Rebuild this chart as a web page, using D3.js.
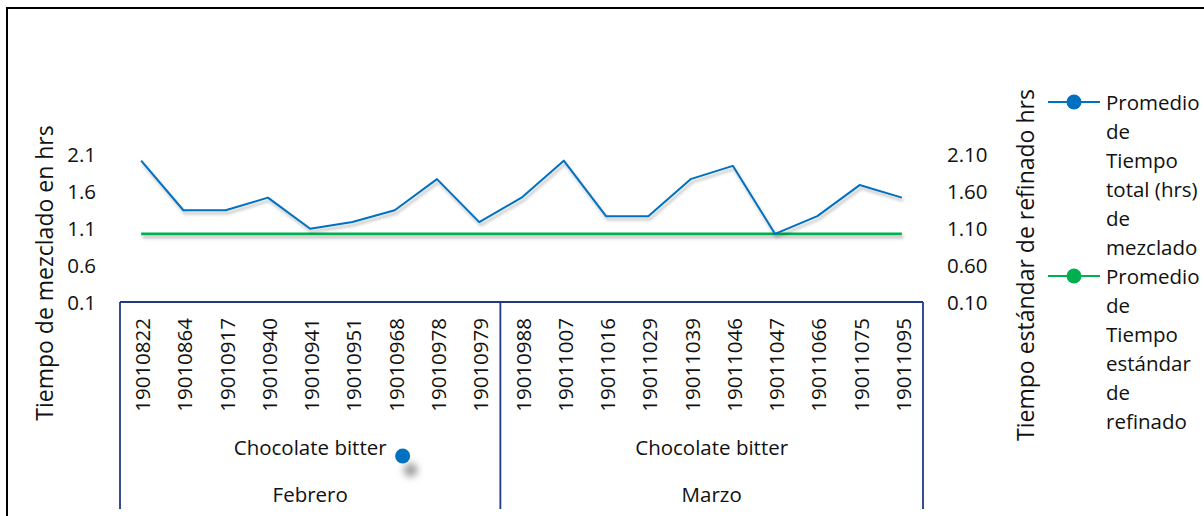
<!DOCTYPE html>
<html>
<head>
<meta charset="utf-8">
<script src="https://cdn.jsdelivr.net/npm/d3@7"></script>
<style>
  body { margin: 0; background: #fff; }
  svg { display: block; }
</style>
</head>
<body>
<script>
// data
var lotes = ["19010822", "19010864", "19010917", "19010940", "19010941", "19010951", "19010968", "19010978", "19010979",
             "19010988", "19011007", "19011016", "19011029", "19011039", "19011046", "19011047", "19011066", "19011075", "19011095"];
var meses = ["Febrero", "Marzo"];
var productos = ["Chocolate bitter", "Chocolate bitter"];
var lotesPorMes = [9, 10];
var mezclado = [2.01, 1.34, 1.34, 1.51, 1.09, 1.18, 1.34, 1.76, 1.18, 1.51, 2.01, 1.26, 1.26, 1.76, 1.94, 1.02, 1.26, 1.68, 1.51];
var refinado = [1.02, 1.02, 1.02, 1.02, 1.02, 1.02, 1.02, 1.02, 1.02, 1.02, 1.02, 1.02, 1.02, 1.02, 1.02, 1.02, 1.02, 1.02, 1.02];
var yTicks = [0.1, 0.6, 1.1, 1.6, 2.1];
var legendItems = [
    {lines: ["Promedio", "de", "Tiempo", "total (hrs)", "de", "mezclado"], key: "blue"},
    {lines: ["Promedio", "de", "Tiempo", "estándar", "de", "refinado"], key: "green"}
];

// General Settings
var W = 1204, H = 516,
plot = {left: 120, right: 923, top: 154, bottom: 302},
font = {family: "'Open Sans', 'Noto Sans', sans-serif", size: {tick: "20.5px", title: "23px", legend: "20.5px"}},
col = {blue: "#0070c0", green: "#00b050", box: "#1f3a86", text: "#111"};

var svg = d3.select("body").append("svg")
    .attr("width", W)
    .attr("height", H);

// filters in user space so a flat line still gets drawn
var defs = svg.append("defs");
defs.append("filter")
    .attr("id", "shadow")
    .attr("filterUnits", "userSpaceOnUse")
    .attr("x", 0).attr("y", 0)
    .attr("width", W).attr("height", H)
    .append("feDropShadow")
        .attr("dx", 1.5).attr("dy", 3)
        .attr("stdDeviation", 1.6)
        .attr("flood-color", "#000")
        .attr("flood-opacity", 0.28);
defs.append("filter")
    .attr("id", "blur")
    .attr("filterUnits", "userSpaceOnUse")
    .attr("x", 0).attr("y", 0)
    .attr("width", W).attr("height", H)
    .append("feGaussianBlur").attr("stdDeviation", 3.5);

// outer frame (only top and left visible in the crop)
svg.append("path")
    .attr("d", "M7," + H + "V8H" + W)
    .attr("fill", "none")
    .attr("stroke", "#000")
    .attr("stroke-width", 2);

var x = d3.scaleBand()
    .domain(lotes)
    .range([plot.left, plot.right])
    .padding(0);

var y = d3.scaleLinear()
    .domain([0.1, 2.1])
    .range([plot.bottom, plot.top]);

function cx(d) { return x(d) + x.bandwidth() / 2; }

// Y axis left
svg.append("g").selectAll("text")
    .data(yTicks)
    .enter().append("text")
        .attr("class", "tick")
        .attr("x", 96)
        .attr("y", function(d) { return y(d); })
        .attr("dy", "-0.02em")
        .attr("text-anchor", "end")
        .text(d3.format(".1f"));
// Y axis right
svg.append("g").selectAll("text")
    .data(yTicks)
    .enter().append("text")
        .attr("class", "tick")
        .attr("x", 947)
        .attr("y", function(d) { return y(d); })
        .attr("dy", "-0.02em")
        .attr("text-anchor", "start")
        .text(d3.format(".2f"));

svg.selectAll(".tick")
    .attr("dominant-baseline", "central")
    .attr("font-family", font.family)
    .attr("font-size", font.size.tick)
    .attr("fill", col.text);

// axis titles
svg.append("text")
    .attr("class", "title")
    .attr("transform", "translate(44,273) rotate(-90)")
    .text("Tiempo de mezclado en hrs");
svg.append("text")
    .attr("class", "title")
    .attr("transform", "translate(1025,265) rotate(-90)")
    .text("Tiempo estándar de refinado hrs");
svg.selectAll(".title")
    .attr("text-anchor", "middle")
    .attr("dominant-baseline", "central")
    .attr("font-family", font.family)
    .attr("font-size", font.size.title)
    .attr("fill", col.text);

// multi-level category box
var box = svg.append("g").attr("id", "box");
var boxBottom = 509;
box.append("line")
    .attr("x1", plot.left).attr("x2", plot.right)
    .attr("y1", plot.bottom).attr("y2", plot.bottom);
var bounds = [0];
lotesPorMes.forEach(function(n, i) { bounds.push(bounds[i] + n); });
box.selectAll(".sep")
    .data(bounds)
    .enter().append("line")
        .attr("class", "sep")
        .attr("x1", function(d) { return d < lotes.length ? x(lotes[d]) : plot.right; })
        .attr("x2", function(d) { return d < lotes.length ? x(lotes[d]) : plot.right; })
        .attr("y1", plot.bottom)
        .attr("y2", boxBottom);
box.selectAll("line")
    .attr("stroke", col.box)
    .attr("stroke-width", 1.8);

// lot labels (rotated)
svg.append("g").selectAll("text")
    .data(lotes)
    .enter().append("text")
        .attr("transform", function(d) { return "translate(" + (cx(d) + 1) + ",318) rotate(-90)"; })
        .attr("text-anchor", "end")
        .attr("dominant-baseline", "central")
        .attr("font-family", font.family)
        .attr("font-size", font.size.tick)
        .attr("fill", col.text)
        .text(function(d) { return d; });

// group labels
var groups = meses.map(function(m, i) {
    var a = x(lotes[bounds[i]]);
    var b = bounds[i + 1] < lotes.length ? x(lotes[bounds[i + 1]]) : plot.right;
    return {mes: m, producto: productos[i], mid: (a + b) / 2};
});
var prodLabels = svg.append("g").selectAll("text")
    .data(groups)
    .enter().append("text")
        .attr("class", "grp")
        .attr("x", function(d) { return d.mid; })
        .attr("y", 447)
        .text(function(d) { return d.producto; });
svg.append("g").selectAll("text")
    .data(groups)
    .enter().append("text")
        .attr("class", "grp")
        .attr("x", function(d) { return d.mid; })
        .attr("y", 494)
        .text(function(d) { return d.mes; });
svg.selectAll(".grp")
    .attr("text-anchor", "middle")
    .attr("dominant-baseline", "central")
    .attr("font-family", font.family)
    .attr("font-size", font.size.tick)
    .attr("fill", col.text);

// stray marker next to the first product label
var firstLen = prodLabels.node().getComputedTextLength();
var dotX = groups[0].mid + firstLen / 2 + 16, dotY = 456;
svg.append("circle")
    .attr("cx", dotX + 8).attr("cy", dotY + 14).attr("r", 7)
    .attr("fill", "#555").attr("opacity", 0.55)
    .attr("filter", "url(#blur)");
svg.append("circle")
    .attr("cx", dotX).attr("cy", dotY).attr("r", 7.5)
    .attr("fill", col.blue);

// lines
var line = d3.line()
    .x(function(d, i) { return cx(lotes[i]); })
    .y(function(d) { return y(d); });

svg.append("path")
    .datum(refinado)
    .attr("d", line)
    .attr("fill", "none")
    .attr("stroke", col.green)
    .attr("stroke-width", 2.6)
    .attr("filter", "url(#shadow)");

svg.append("path")
    .datum(mezclado)
    .attr("d", line)
    .attr("fill", "none")
    .attr("stroke", col.blue)
    .attr("stroke-width", 2)
    .attr("stroke-linejoin", "round")
    .attr("filter", "url(#shadow)");

// legend
var lineH = 29, legTop = 102;
var leg = svg.append("g").attr("id", "legend");
legendItems.forEach(function(item, k) {
    var y0 = legTop + k * item.lines.length * lineH;
    var c = col[item.key];
    leg.append("line")
        .attr("x1", 1048).attr("x2", 1100)
        .attr("y1", y0).attr("y2", y0)
        .attr("stroke", c).attr("stroke-width", 2.2);
    leg.append("circle")
        .attr("cx", 1074).attr("cy", y0).attr("r", 7.5)
        .attr("fill", c);
    leg.selectAll(null)
        .data(item.lines)
        .enter().append("text")
            .attr("x", 1106)
            .attr("y", function(d, i) { return y0 + i * lineH; })
            .attr("dominant-baseline", "central")
            .attr("font-family", font.family)
            .attr("font-size", font.size.legend)
            .attr("fill", col.text)
            .text(function(d) { return d; });
});
</script>
</body>
</html>
